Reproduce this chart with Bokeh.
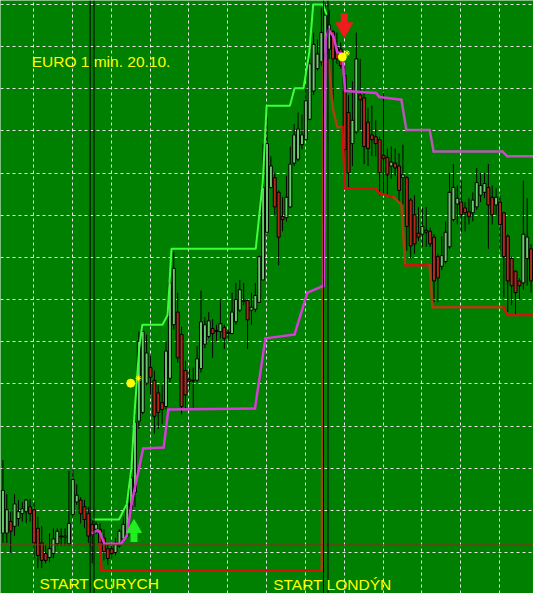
from bokeh.plotting import figure
from bokeh.models import Range1d, FixedTicker, ColumnDataSource, Label, Span
from bokeh.embed import file_html
from bokeh.resources import INLINE

# ---- EUR 1-minute candles (price level in chart points, index = minute) ----
opens = [62, 62, 74, 69, 77, 82, 84, 89, 86, 67,
         52, 41, 37, 41, 51, 59, 58, 51, 81, 94,
         96, 89, 82, 71, 66, 66, 57, 46, 46, 42,
         49, 56, 59, 87, 104, 177, 186, 216, 232, 219,
         206, 196, 192, 221, 276, 289, 266, 229, 220, 219,
         219, 231, 256, 264, 272, 270, 269, 273, 268, 267,
         279, 291, 301, 301, 291, 292, 299, 322, 371, 417,
         427, 412, 387, 386, 397, 442, 446, 461, 466, 487,
         516, 539, 546, 554, 559, 577, 561, 559, 532, 494,
         462, 474, 512, 509, 484, 471, 469, 466, 450, 448,
         439, 442, 439, 427, 427, 404, 389, 370, 369, 373,
         372, 366, 346, 336, 341, 356, 384, 400, 402, 396,
         392, 391, 397, 409, 412, 417, 407, 399, 402, 391,
         367, 344, 331, 321, 319, 344, 354]
highs = [137, 102, 84, 102, 96, 94, 97, 97, 94, 79,
         69, 49, 62, 67, 67, 67, 67, 126, 127, 112,
         99, 96, 89, 76, 74, 72, 66, 52, 49, 57,
         66, 79, 97, 127, 184, 269, 274, 266, 244, 229,
         214, 214, 259, 324, 351, 309, 274, 239, 231, 232,
         254, 311, 284, 289, 282, 276, 302, 276, 271, 309,
         319, 322, 319, 302, 309, 319, 347, 462, 489, 449,
         432, 414, 407, 429, 459, 482, 494, 492, 522, 549,
         576, 569, 602, 606, 599, 579, 576, 566, 542, 512,
         526, 576, 549, 517, 499, 501, 486, 469, 514, 457,
         459, 457, 452, 461, 429, 406, 409, 397, 396, 397,
         376, 369, 349, 367, 382, 432, 441, 419, 424, 402,
         406, 412, 437, 432, 432, 441, 419, 416, 409, 392,
         369, 346, 332, 324, 424, 406, 359]
lows = [52, 52, 42, 59, 69, 74, 72, 74, 36, 26,
        26, 31, 32, 36, 49, 49, 49, 49, 79, 91,
        72, 67, 52, 31, 61, 46, 34, 29, 36, 39,
        47, 54, 57, 84, 89, 169, 184, 214, 204, 164,
        169, 174, 189, 217, 271, 237, 184, 189, 209, 191,
        217, 227, 252, 262, 242, 259, 262, 251, 259, 266,
        276, 289, 296, 251, 276, 289, 299, 322, 371, 416,
        389, 337, 372, 382, 396, 439, 444, 456, 466, 486,
        512, 537, 542, 549, 549, 506, 544, 539, 429, 416,
        439, 472, 476, 441, 439, 449, 449, 409, 409, 409,
        426, 429, 401, 399, 352, 344, 349, 362, 356, 356,
        356, 299, 299, 332, 339, 354, 382, 379, 371, 372,
        379, 382, 394, 402, 406, 354, 379, 389, 352, 304,
        289, 296, 287, 302, 312, 316, 309]
closes = [106, 86, 64, 92, 84, 87, 96, 82, 52, 39,
          34, 34, 46, 56, 64, 58, 59, 72, 117, 101,
          82, 76, 59, 61, 71, 52, 43, 36, 41, 52,
          64, 71, 92, 119, 176, 259, 269, 247, 222, 182,
          186, 189, 249, 319, 334, 242, 192, 204, 218, 218,
          241, 279, 276, 280, 267, 269, 277, 262, 267, 289,
          302, 312, 300, 281, 294, 306, 346, 417, 462, 439,
          397, 366, 384, 407, 441, 471, 477, 471, 506, 544,
          564, 554, 576, 594, 584, 549, 549, 542, 456, 432,
          486, 549, 507, 459, 457, 466, 462, 432, 447, 430,
          443, 437, 414, 430, 377, 357, 359, 366, 377, 371,
          359, 321, 324, 347, 371, 412, 417, 406, 389, 391,
          387, 404, 422, 419, 421, 399, 389, 407, 379, 346,
          321, 316, 309, 316, 369, 366, 321]

# ---- channel indicator lines (minute index, level) ----
upper_x = [23.1, 29.9, 31.9, 33.1, 33.9, 35.1, 35.9, 41.1, 42.4, 42.9, 43.4,
           65.1, 66.9, 67.9, 73.9, 75.1, 77.4, 78.9, 79.9, 82.4, 83.4]
upper_y = [76, 76, 92, 129, 186, 252, 276, 276, 286, 319, 354,
           354, 422, 501, 501, 519, 519, 556, 605, 605, 594]
mid_x = [23.1, 24.4, 25.1, 26.1, 30.4, 31.9, 33.1, 34.9, 36.1, 41.4, 42.6,
         64.9, 67.6, 75.1, 78.4, 81.9, 82.6, 83.1, 83.9, 85.1, 86.1, 87.4,
         88.1, 96.1, 96.9, 102.6, 103.9, 109.9, 110.9, 128.6, 129.9, 137.0]
mid_y = [62, 65, 62, 51, 51, 59, 92, 126, 149, 150, 189,
         190, 262, 266, 309, 315, 316, 569, 579, 572, 556, 554,
         516, 514, 510, 507, 476, 476, 454, 454, 449, 449]
# tone of each segment of the middle line (0 = bright, 1 = faded)
mid_tone = [0] * 25 + [1] * 6
lower_x = [24.9, 25.4, 82.1, 82.6, 83.9, 84.9, 86.1, 87.4, 88.1, 96.1,
           96.9, 100.6, 102.6, 103.6, 109.9, 110.6, 128.9, 129.9, 137.0]
lower_y = [51, 24, 24, 546, 546, 499, 479, 479, 416, 416,
           411, 407, 399, 337, 337, 294, 294, 286, 286]
lower_tone = [0, 0, 1, 1, 1, 1, 1, 0, 0, 0, 0, 1, 1, 0, 1, 1, 0, 0]

# session markers, horizontal level, signals
session_x = [22.45, 23.45, 82.55, 83.7]
level_y = 50
buy_x, buy_head, buy_tail = [33.75], [67], [53]
sell_x, sell_head, sell_tail = [87.9], [581], [596]
dot_x, dot_y = [32.9, 87.4], [216, 551]
spark_x, spark_y = [34.9, 88.6], [221, 555]

grid_x = [7.875 + 10 * k for k in range(13)]
grid_y = [605, 561.7, 518.4, 475.1, 431.8, 388.5, 345.2, 301.9,
          258.6, 215.3, 172.0, 128.7, 85.4, 42.1]

BG = "#008000"
BULL = "#6cc86c"
BEAR = "#b0281e"

p = figure(width=533, height=593, x_range=Range1d(-0.625, 136.625),
           y_range=Range1d(0, 609), output_backend="svg", toolbar_location=None,
           x_axis_location=None, y_axis_location=None, min_border=0,
           background_fill_color=BG, border_fill_color=BG, outline_line_color=None)

p.xgrid.ticker = FixedTicker(ticks=grid_x)
p.ygrid.ticker = FixedTicker(ticks=grid_y)
for g in (p.xgrid, p.ygrid):
    g.grid_line_color = "#e8e8e8"
    g.grid_line_dash = "3 3"
    g.grid_line_width = 1

idx = list(range(len(opens)))
src = ColumnDataSource(dict(
    x=idx, h=highs, l=lows,
    top=[max(o, c) for o, c in zip(opens, closes)],
    bottom=[min(o, c) for o, c in zip(opens, closes)],
    fill=[BULL if c >= o else BEAR for o, c in zip(opens, closes)]))

p.segment(x0="x", y0="h", x1="x", y1="l", source=src, line_color="black", line_width=1)
p.vbar(x="x", width=0.78, top="top", bottom="bottom", fill_color="fill",
       line_color="black", line_width=1, source=src)

p.add_layout(Span(location=level_y, dimension="width", line_color="#7a3a16", line_width=1))


def toned(xs, ys, tones, colors, width):
    p.segment(x0=xs[:-1], y0=ys[:-1], x1=xs[1:], y1=ys[1:],
              line_color=[colors[t] for t in tones], line_width=width, line_cap="round")


toned(lower_x, lower_y, lower_tone, ["#d41010", "#a8400f"], 2.5)
toned(mid_x, mid_y, mid_tone, ["#d63cd6", "#b45ab4"], 2.5)
p.line(upper_x, upper_y, line_color="#3cff3c", line_width=2)

for sx in session_x:
    p.add_layout(Span(location=sx, dimension="height", line_color="black", line_width=1))

# arrows
p.segment(x0=buy_x, y0=buy_tail, x1=buy_x, y1=buy_head, line_color="#22ee22", line_width=7)
p.scatter(buy_x, buy_head, marker="triangle", size=15, fill_color="#22ee22", line_color="#22ee22")
p.segment(x0=sell_x, y0=sell_tail, x1=sell_x, y1=sell_head, line_color="#ee1c1c", line_width=7)
p.scatter(sell_x, sell_head, marker="inverted_triangle", size=17, fill_color="#ee1c1c", line_color="#ee1c1c")

p.scatter(dot_x, dot_y, marker="circle", size=8, fill_color="#ffff00", line_color="#ffff00")
p.scatter(spark_x, spark_y, marker="asterisk", size=6, line_color="#ffff00")

font = "Liberation Sans"
p.add_layout(Label(x=7.4, y=546, text="EURO 1 min. 20.10.", text_color="#ffff00",
                   text_font=font, text_font_size="15.5px", text_baseline="alphabetic"))
p.add_layout(Label(x=9.4, y=10, text="START CURYCH", text_color="#ffff00",
                   text_font=font, text_font_size="15.5px", text_baseline="alphabetic"))
p.add_layout(Label(x=69.6, y=9, text="START LONDÝN", text_color="#ffff00",
                   text_font=font, text_font_size="15.5px", text_baseline="alphabetic"))

open("out.html", "w").write(file_html(p, INLINE))
